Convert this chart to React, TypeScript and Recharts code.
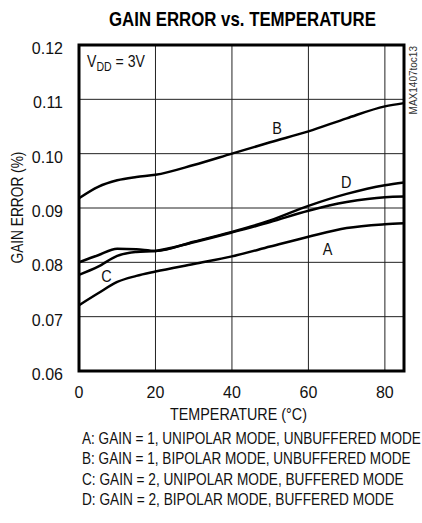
import React from 'react';
import {
  LineChart,
  Line,
  XAxis,
  YAxis,
  CartesianGrid,
  ReferenceArea,
  ReferenceDot,
} from 'recharts';

// Values (temperature in °C, gain error in %)
const temps = [0, 5, 10, 15, 20, 30, 40, 50, 60, 70, 80, 85];
const curveA = [0.0721, 0.0743, 0.0764, 0.0775, 0.0783, 0.0797, 0.0811, 0.0829, 0.0847, 0.0863, 0.087, 0.0872];
const curveB = [0.0918, 0.0939, 0.0951, 0.0957, 0.0961, 0.0979, 0.1, 0.1021, 0.1041, 0.1065, 0.1087, 0.1093];
const curveC = [0.0777, 0.0792, 0.0812, 0.0819, 0.0821, 0.0837, 0.0855, 0.0874, 0.0895, 0.0911, 0.092, 0.0921];
const curveD = [0.08, 0.0813, 0.0825, 0.0824, 0.0821, 0.0838, 0.0856, 0.0877, 0.0904, 0.0926, 0.0942, 0.0947];

const xTicks = [0, 20, 40, 60, 80];
const yTicks = [0.06, 0.07, 0.08, 0.09, 0.1, 0.11, 0.12];
const yTickLabels = ['0.06', '0.07', '0.08', '0.09', '0.10', '0.11', '0.12'];

const legendLines = [
  'A: GAIN = 1, UNIPOLAR MODE, UNBUFFERED MODE',
  'B: GAIN = 1, BIPOLAR MODE, UNBUFFERED MODE',
  'C: GAIN = 2, UNIPOLAR MODE, BUFFERED MODE',
  'D: GAIN = 2, BIPOLAR MODE, BUFFERED MODE',
];
// rendered widths of the legend rows in the reference (condensed face)
const legendWidths = [339, 329, 322, 312];

const data = temps.map((t, i) => ({
  t,
  A: curveA[i],
  B: curveB[i],
  C: curveC[i],
  D: curveD[i],
}));

const FONT = "'Liberation Sans', Arial, sans-serif";

// the reference uses a condensed face; squeeze Liberation Sans to the same width
let ctx: CanvasRenderingContext2D | null = null;
function textWidth(text: string, size: number, bold = false) {
  if (!ctx) ctx = document.createElement('canvas').getContext('2d');
  if (!ctx) return text.length * size * 0.55;
  ctx.font = `${bold ? 'bold ' : ''}${size}px 'Liberation Sans', Arial, sans-serif`;
  return ctx.measureText(text).width;
}

const FitText = ({ x, y, text, width, size, bold, rotate, fill = '#111' }: any) => {
  const s = width / textWidth(text, size, bold);
  const tf = `translate(${x}, ${y})${rotate ? ` rotate(${rotate})` : ''} scale(${s}, 1)`;
  return (
    <text
      transform={tf}
      fontSize={size}
      fontWeight={bold ? 'bold' : 'normal'}
      fontFamily={FONT}
      fill={fill}
    >
      {text}
    </text>
  );
};

const XTick = ({ x, y, payload }: any) => (
  <text x={x} y={y + 23} textAnchor="middle" fontSize={16} fontFamily={FONT} fill="#111">
    {payload.value}
  </text>
);

const YTick = ({ x, y, payload }: any) => {
  const idx = yTicks.findIndex((v) => Math.abs(v - payload.value) < 1e-6);
  return (
    <text x={x} y={y + 9} textAnchor="end" fontSize={16} fontFamily={FONT} fill="#111">
      {idx >= 0 ? yTickLabels[idx] : payload.value}
    </text>
  );
};

const CurveLabel = ({ viewBox, value }: any) => (
  <text
    transform={`translate(${viewBox.x}, ${viewBox.y + 6}) scale(0.85, 1)`}
    textAnchor="middle"
    fontSize={17}
    fontFamily={FONT}
    fill="#111"
  >
    {value}
  </text>
);

export default function App() {
  return (
    <div style={{ position: 'absolute', left: 0, top: 0, width: 422, height: 523, background: '#fff' }}>
      <LineChart
        width={422}
        height={523}
        data={data}
        margin={{ top: 45, right: 18, bottom: 122, left: 19 }}
      >
        <CartesianGrid stroke="#222" strokeWidth={1} />
        <XAxis
          dataKey="t"
          type="number"
          domain={[0, 85]}
          ticks={xTicks}
          tick={<XTick />}
          tickLine={false}
          axisLine={false}
          tickSize={0}
          tickMargin={4}
          height={30}
        />
        <YAxis
          type="number"
          domain={[0.06, 0.12]}
          ticks={yTicks}
          tick={<YTick />}
          tickLine={false}
          axisLine={false}
          tickSize={0}
          tickMargin={16}
          width={60}
        />
        <ReferenceArea
          x1={0}
          x2={85}
          y1={0.06}
          y2={0.12}
          fill="none"
          stroke="#000"
          strokeWidth={3}
          ifOverflow="visible"
        />
        {(['A', 'B', 'C', 'D'] as const).map((k) => (
          <Line
            key={k}
            type="monotone"
            dataKey={k}
            stroke="#000"
            strokeWidth={2.5}
            dot={false}
            isAnimationActive={false}
          />
        ))}
        <ReferenceDot x={51.8} y={0.1047} r={0} label={<CurveLabel value="B" />} />
        <ReferenceDot x={69.9} y={0.0948} r={0} label={<CurveLabel value="D" />} />
        <ReferenceDot x={65} y={0.0824} r={0} label={<CurveLabel value="A" />} />
        <ReferenceDot x={7.2} y={0.0775} r={0} label={<CurveLabel value="C" />} />
      </LineChart>

      <svg
        width={422}
        height={523}
        style={{ position: 'absolute', left: 0, top: 0, pointerEvents: 'none' }}
        fontFamily={FONT}
      >
        <FitText x={109} y={26} text="GAIN ERROR vs. TEMPERATURE" width={267} size={20} bold fill="#000" />
        <text transform="translate(87, 67) scale(0.88, 1)" fontSize={16} fill="#111">
          V<tspan fontSize={12} dy={4}>DD</tspan>
          <tspan dy={-4}> = 3V</tspan>
        </text>
        <text
          transform="translate(417, 46) rotate(-90)"
          textAnchor="end"
          fontSize={10}
          fill="#333"
        >
          MAX1407toc13
        </text>
        <FitText x={22.5} y={263.5} rotate={-90} text="GAIN ERROR (%)" width={112} size={16} />
        <FitText x={170} y={420} text="TEMPERATURE (°C)" width={137} size={16} />
        {legendLines.map((line, i) => (
          <FitText key={i} x={82} y={444 + i * 20.3} text={line} width={legendWidths[i]} size={16} />
        ))}
      </svg>
    </div>
  );
}
